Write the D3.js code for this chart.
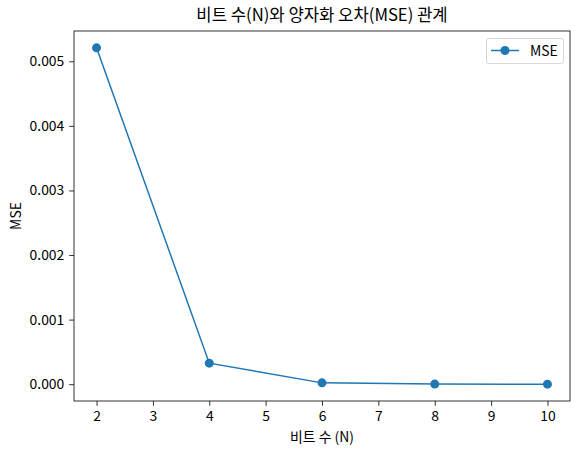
<!DOCTYPE html>
<html><head><meta charset="utf-8">
<script src="https://cdn.jsdelivr.net/npm/d3@7"></script>
<style>
body{margin:0;background:#fff;}
text{font-family:"Noto Sans CJK KR","Noto Sans",sans-serif;fill:#000;}
</style></head>
<body><svg id="c" width="580" height="455"></svg>
<script>
const bits = [2, 4, 6, 8, 10];
const mse = [0.0052083, 0.00032552, 0.000020345, 0.0000012716, 0.000000079473];
const xTicks = [2, 3, 4, 5, 6, 7, 8, 9, 10];
const yTicks = [0, 0.001, 0.002, 0.003, 0.004, 0.005];
const title = "비트 수(N)와 양자화 오차(MSE) 관계";
const xLabel = "비트 수 (N)";
const yLabel = "MSE";
const seriesName = "MSE";

const svg = d3.select("#c");
const L = 74, R = 570, T = 31, B = 401;
const color = "#1f77b4";
const ymax = d3.max(mse), ymin = d3.min(mse);
const yr = ymax - ymin;
const x = d3.scaleLinear().domain([1.6, 10.4]).range([L, R]);
const y = d3.scaleLinear().domain([ymin - 0.05*yr, ymax + 0.05*yr]).range([B, T]);

const fs = 13.9;
const tk = 4.86;
const xAxis = d3.axisBottom(x).tickValues(xTicks).tickFormat(d3.format("d")).tickSizeOuter(0).tickSize(tk).tickPadding(tk);
const yAxis = d3.axisLeft(y).tickValues(yTicks).tickFormat(d3.format(".3f")).tickSizeOuter(0).tickSize(tk).tickPadding(tk);

const gx = svg.append("g").attr("transform", `translate(0,${B})`).call(xAxis);
const gy = svg.append("g").attr("transform", `translate(${L},0)`).call(yAxis);
[gx, gy].forEach(g => {
  g.select(".domain").remove();
  g.selectAll("line").attr("stroke", "#000").attr("stroke-width", 0.8);
  g.selectAll("text").attr("font-size", fs).attr("font-family", '"Noto Sans CJK KR","Noto Sans",sans-serif').attr("fill", "#000");
});

svg.append("rect").attr("x", L).attr("y", T).attr("width", R - L).attr("height", B - T)
  .attr("fill", "none").attr("stroke", "#000").attr("stroke-width", 0.8);

const line = d3.line().x((d, i) => x(bits[i])).y(d => y(d));
svg.append("path").datum(mse).attr("d", line).attr("fill", "none").attr("stroke", color).attr("stroke-width", 1.5);
svg.selectAll("circle.pt").data(mse).enter().append("circle").attr("class", "pt")
  .attr("cx", (d, i) => x(bits[i])).attr("cy", d => y(d)).attr("r", 4.5).attr("fill", color);

svg.append("text").attr("x", (L + R) / 2).attr("y", 21).attr("text-anchor", "middle").attr("font-size", 16.67).text(title);
svg.append("text").attr("x", (L + R) / 2).attr("y", 442).attr("text-anchor", "middle").attr("font-size", fs).text(xLabel);
svg.append("text").attr("transform", `translate(21,${(T + B) / 2}) rotate(-90)`).attr("text-anchor", "middle").attr("font-size", fs).text(yLabel);

// legend
const lg = svg.append("g");
lg.append("rect").attr("x", 486.5).attr("y", 38.5).attr("width", 77).attr("height", 25).attr("rx", 2.5)
  .attr("fill", "#fff").attr("fill-opacity", 0.8).attr("stroke", "#ccc").attr("stroke-width", 0.8);
lg.append("line").attr("x1", 491).attr("x2", 519).attr("y1", 50.5).attr("y2", 50.5).attr("stroke", color).attr("stroke-width", 1.5);
lg.append("circle").attr("cx", 505).attr("cy", 50.5).attr("r", 4.5).attr("fill", color);
lg.append("text").attr("x", 530).attr("y", 55.5).attr("font-size", fs).text(seriesName);
</script></body></html>
